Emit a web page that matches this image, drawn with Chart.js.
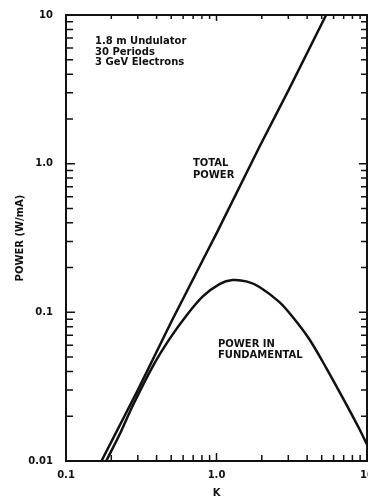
<!DOCTYPE html>
<html lang="en">
<head>
    <meta charset="utf-8">
    <title>Undulator power vs K</title>
    <script src="https://cdn.jsdelivr.net/npm/chart.js@4.4.1/dist/chart.umd.min.js"></script>
    <style>
        html, body { margin: 0; padding: 0; background: #fff; }
        #box { position: relative; width: 368px; height: 499px; }
    </style>
</head>
<body>
<div id="box"><canvas id="powerChart"></canvas></div>

<script type="text/javascript">

    // values
    const kTotal = [0.172, 0.3, 0.5, 0.81, 1.0, 1.93, 3.0, 5.35];
    const pTotal = [0.010, 0.030, 0.086, 0.224, 0.34, 1.30, 3.1, 10.0];

    const kFund = [0.185, 0.23, 0.279, 0.378, 0.489, 0.630, 0.811, 1.047, 1.28, 1.6, 1.93, 2.61, 3.20, 4.13, 5.33, 6.86, 8.85, 10.0];
    const pFund = [0.010, 0.0155, 0.0238, 0.0435, 0.0665, 0.0950, 0.128, 0.155, 0.165, 0.161, 0.148, 0.1175, 0.0933, 0.0661, 0.0427, 0.0269, 0.0166, 0.0129];

    const xTickValues = [0.1, 1, 10];
    const xTickLabels = ["0.1", "1.0", "10"];
    const yTickValues = [0.01, 0.1, 1, 10];
    const yTickLabels = ["0.01", "0.1", "1.0", "10"];

    const ink = "#111";
    const font = {family: "DejaVu Sans", size: 10, weight: "bold"};

    function toPoints(xs, ys) {
        return xs.map((x, i) => ({x: x, y: ys[i]}));
    }

    function labelFor(values, labels) {
        return function (value) {
            for (let i = 0; i < values.length; i++) {
                if (Math.abs(Math.log10(value) - Math.log10(values[i])) < 1e-6) return labels[i];
            }
            return "";
        };
    }

    // box frame with inward log ticks on all four sides, plus the text notes
    const frameTicks = {
        id: "frameTicks",
        afterDraw(chart) {
            const {ctx, chartArea: a, scales: {x, y}} = chart;
            ctx.save();
            ctx.strokeStyle = ink;
            ctx.lineWidth = 1.5;
            ctx.beginPath();
            for (let e = -1; e <= 0; e++) {
                for (let m = 1; m <= 10; m++) {
                    const v = m * Math.pow(10, e);
                    const px = x.getPixelForValue(v);
                    const len = (m === 1 || m === 10) ? 8 : 6;
                    ctx.moveTo(px, a.bottom); ctx.lineTo(px, a.bottom - len);
                    ctx.moveTo(px, a.top); ctx.lineTo(px, a.top + len - 2);
                }
            }
            for (let e = -2; e <= 0; e++) {
                for (let m = 1; m <= 10; m++) {
                    const v = m * Math.pow(10, e);
                    const py = y.getPixelForValue(v);
                    const len = (m === 1 || m === 10) ? 9 : 7;
                    ctx.moveTo(a.left, py); ctx.lineTo(a.left + len, py);
                    ctx.moveTo(a.right, py); ctx.lineTo(a.right - len + 1, py);
                }
            }
            ctx.stroke();

            ctx.lineWidth = 2;
            ctx.strokeRect(a.left, a.top, a.right - a.left, a.bottom - a.top);

            ctx.fillStyle = ink;
            ctx.font = "bold 10px 'DejaVu Sans'";
            ctx.textBaseline = "middle";
            ctx.textAlign = "left";
            ctx.fillText("1.8 m Undulator", 95, 41);
            ctx.fillText("30 Periods", 95, 52);
            ctx.fillText("3 GeV Electrons", 95, 62);
            ctx.fillText("TOTAL", 193, 163);
            ctx.fillText("POWER", 193, 175);
            ctx.fillText("POWER IN", 218, 344);
            ctx.fillText("FUNDAMENTAL", 218, 355);
            ctx.restore();
        }
    };

    new Chart("powerChart", {
        type: "line",
        data: {
            datasets: [
                {
                    label: "Total power",
                    data: toPoints(kTotal, pTotal),
                    borderColor: ink,
                    borderWidth: 2.5,
                    pointRadius: 0,
                    tension: 0
                },
                {
                    label: "Power in fundamental",
                    data: toPoints(kFund, pFund),
                    borderColor: ink,
                    borderWidth: 2.5,
                    pointRadius: 0,
                    tension: 0.3
                }
            ]
        },
        options: {
            responsive: true,
            maintainAspectRatio: false,
            animation: false,
            layout: {padding: {top: 15, right: 1, left: 0, bottom: 0}},
            plugins: {
                legend: {display: false},
                tooltip: {enabled: false}
            },
            scales: {
                x: {
                    type: "logarithmic",
                    min: 0.1,
                    max: 10,
                    grid: {display: false, drawTicks: false},
                    border: {display: false},
                    ticks: {
                        color: ink, font: font, padding: 8,
                        autoSkip: false, maxRotation: 0,
                        callback: labelFor(xTickValues, xTickLabels)
                    },
                    title: {display: true, text: "K", color: ink, font: font, padding: {top: 0, bottom: 0}},
                    afterFit(scale) {
                        scale.height = 38;
                        scale.paddingLeft = 0;
                        scale.paddingRight = 0;
                    }
                },
                y: {
                    type: "logarithmic",
                    min: 0.01,
                    max: 10,
                    grid: {display: false, drawTicks: false},
                    border: {display: false},
                    ticks: {
                        color: ink, font: font, padding: 13,
                        autoSkip: false,
                        callback: labelFor(yTickValues, yTickLabels)
                    },
                    title: {display: true, text: "POWER (W/mA)", color: ink, font: font, padding: {top: 14, bottom: 0}},
                    afterFit(scale) {
                        scale.width = 66;
                        scale.paddingTop = 0;
                        scale.paddingBottom = 0;
                    }
                }
            }
        },
        plugins: [frameTicks]
    });

</script>
</body>
</html>
